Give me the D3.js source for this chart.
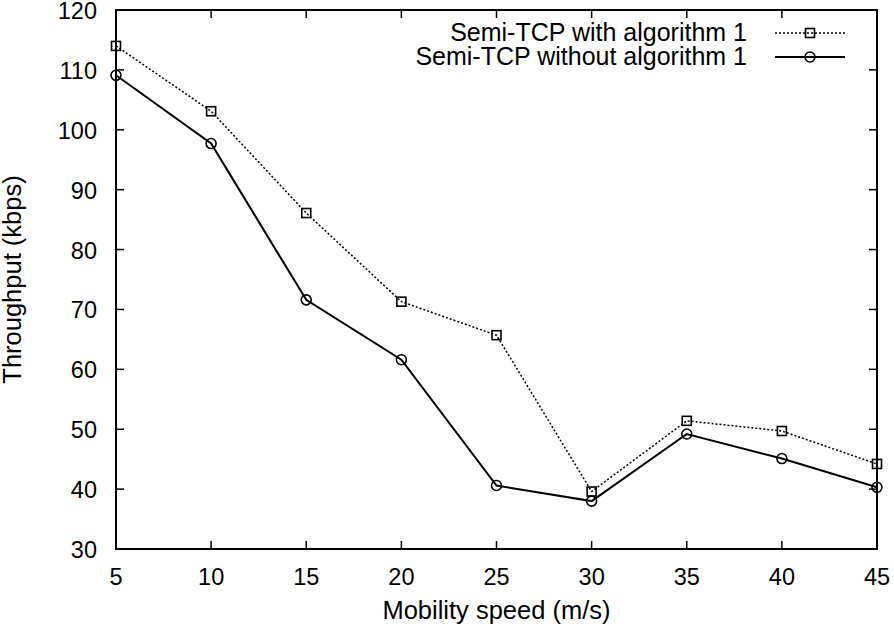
<!DOCTYPE html>
<html><head><meta charset="utf-8">
<script src="https://cdn.jsdelivr.net/npm/d3@7"></script>
<style>body{margin:0;background:#fff}svg{display:block}text{font-family:"Liberation Sans",Arial,sans-serif;fill:#000}</style>
</head><body>
<script>
const speeds = [5, 10, 15, 20, 25, 30, 35, 40, 45];
const withAlg = [114.0, 103.1, 86.1, 71.3, 65.7, 39.6, 51.4, 49.7, 44.2];
const withoutAlg = [109.1, 97.7, 71.6, 61.6, 40.6, 38.0, 49.2, 45.1, 40.3];
const seriesNames = ["Semi-TCP with algorithm 1", "Semi-TCP without algorithm 1"];
const xTicks = [5, 10, 15, 20, 25, 30, 35, 40, 45];
const yTicks = [30, 40, 50, 60, 70, 80, 90, 100, 110, 120];
const xTitle = "Mobility speed (m/s)";
const yTitle = "Throughput (kbps)";

const W = 894, H = 629;
const L = 116, R = 877, T = 10, B = 549;
const svg = d3.select("body").append("svg").attr("width", W).attr("height", H);
const x = d3.scaleLinear().domain([5, 45]).range([L, R]);
const y = d3.scaleLinear().domain([30, 120]).range([B, T]);

function txt(g, s, tx, ty, anchor, fs, rot) {
  return g.append("text").attr("font-size", fs).attr("text-anchor", anchor)
    .attr("transform", `translate(${tx},${ty})` + (rot ? ` rotate(${rot})` : "")).text(s);
}

// ticks (mirrored, inward)
const tl = 8;
const axes = svg.append("g").attr("stroke", "#000").attr("stroke-width", 1.5);
xTicks.forEach(v => {
  axes.append("line").attr("x1", x(v)).attr("x2", x(v)).attr("y1", B).attr("y2", B - tl);
  axes.append("line").attr("x1", x(v)).attr("x2", x(v)).attr("y1", T).attr("y2", T + tl);
});
yTicks.forEach(v => {
  axes.append("line").attr("x1", L).attr("x2", L + tl).attr("y1", y(v)).attr("y2", y(v));
  axes.append("line").attr("x1", R).attr("x2", R - tl).attr("y1", y(v)).attr("y2", y(v));
});
axes.append("rect").attr("x", L).attr("y", T).attr("width", R - L).attr("height", B - T).attr("fill", "none").attr("stroke-width", 2);

const lab = svg.append("g");
xTicks.forEach(v => txt(lab, String(v), x(v), 585, "middle", 23.5));
yTicks.forEach(v => txt(lab, String(v), 97, y(v) + 9, "end", 23.5));
txt(lab, xTitle, (L + R) / 2, 619, "middle", 25.5);
txt(lab, yTitle, 21, (T + B) / 2, "middle", 25.5, -90);

const line = d3.line().x(d => x(d[0])).y(d => y(d[1]));
const d1 = speeds.map((s, i) => [s, withAlg[i]]);
const d2 = speeds.map((s, i) => [s, withoutAlg[i]]);

const g = svg.append("g");
g.append("path").attr("d", line(d1)).attr("fill", "none").attr("stroke", "#000").attr("stroke-width", 1.5).attr("stroke-dasharray", "2,2");
g.append("path").attr("d", line(d2)).attr("fill", "none").attr("stroke", "#000").attr("stroke-width", 2);

function square(p, cx, cy) {
  p.append("rect").attr("x", cx - 4.5).attr("y", cy - 4.5).attr("width", 9).attr("height", 9)
    .attr("fill", "none").attr("stroke", "#000").attr("stroke-width", 1.6);
}
function circle(p, cx, cy) {
  p.append("circle").attr("cx", cx).attr("cy", cy).attr("r", 5)
    .attr("fill", "none").attr("stroke", "#000").attr("stroke-width", 1.6);
}
d1.forEach(d => square(g, x(d[0]), y(d[1])));
d2.forEach(d => circle(g, x(d[0]), y(d[1])));

// legend
const lg = svg.append("g");
const ly = [33, 57];
txt(lg, seriesNames[0], 747, ly[0] + 8, "end", 25);
txt(lg, seriesNames[1], 747, ly[1] + 8, "end", 25);
lg.append("line").attr("x1", 775).attr("x2", 845).attr("y1", ly[0]).attr("y2", ly[0]).attr("stroke", "#000").attr("stroke-width", 1.5).attr("stroke-dasharray", "2,2");
lg.append("line").attr("x1", 775).attr("x2", 845).attr("y1", ly[1]).attr("y2", ly[1]).attr("stroke", "#000").attr("stroke-width", 2);
square(lg, 810, ly[0]);
circle(lg, 810, ly[1]);
</script>
</body></html>
